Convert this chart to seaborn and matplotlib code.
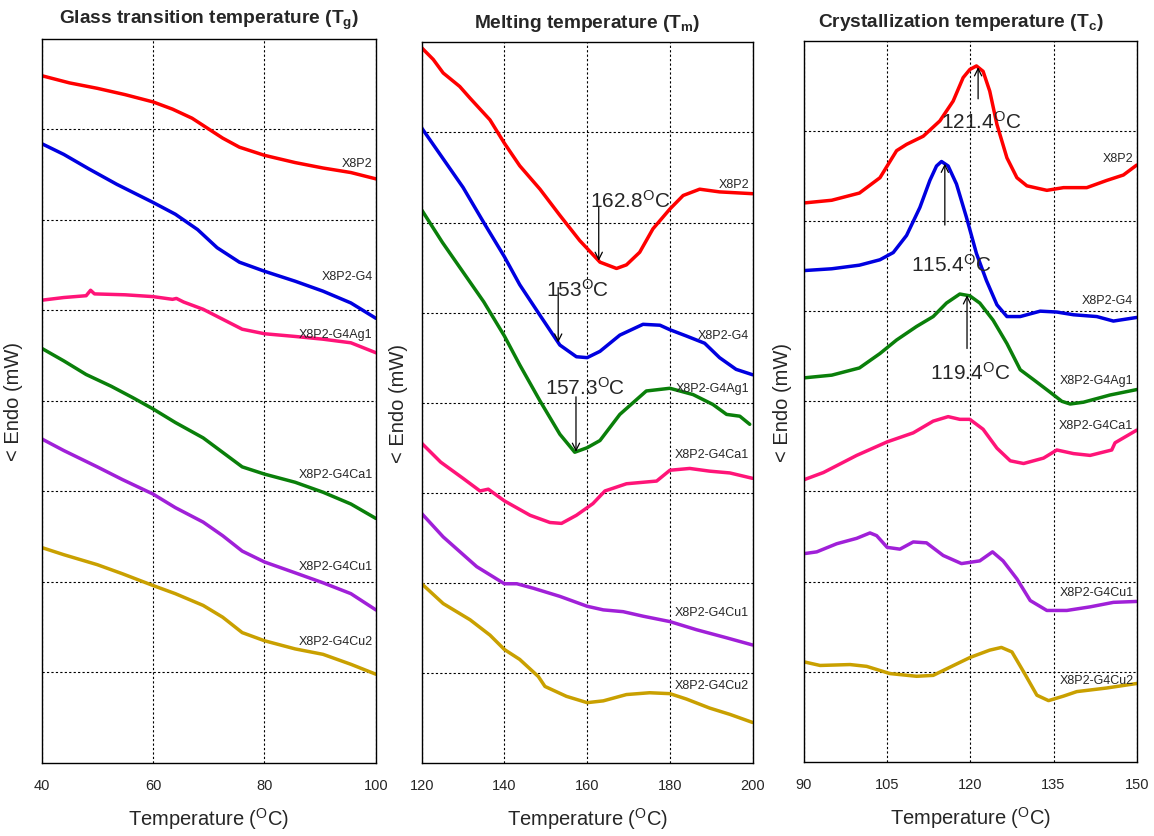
import numpy as np
import matplotlib
matplotlib.use("Agg")
import matplotlib.pyplot as plt
import seaborn as sns

sns.set_style("white")
plt.rcParams["font.family"] = ["Liberation Sans", "DejaVu Sans"]
plt.rcParams["mathtext.fontset"] = "custom"
plt.rcParams["mathtext.rm"] = "Liberation Sans"
plt.rcParams["mathtext.bf"] = "Liberation Sans:bold"
plt.rcParams["mathtext.default"] = "regular"

samples = ["X8P2", "X8P2-G4", "X8P2-G4Ag1", "X8P2-G4Ca1", "X8P2-G4Cu1", "X8P2-G4Cu2"]
red, blue, pink, green, purple, gold = "#FF0000", "#0000E0", "#FF1478", "#0A7F0A", "#A020D8", "#C9A000"
tg_colors = [red, blue, pink, green, purple, gold]
tm_colors = [red, blue, green, pink, purple, gold]
tc_colors = [red, blue, green, pink, purple, gold]

# ---- Glass transition region (heat flow, stacked, arbitrary offset units) ----
tg_x8p2_t = [40, 45, 50, 55, 60, 63.5, 67, 70, 72.5, 75.5, 80, 85.5, 90.5, 95.5, 100]
tg_x8p2_h = [7.59, 7.51, 7.45, 7.38, 7.30, 7.22, 7.12, 7.00, 6.90, 6.80, 6.71, 6.63, 6.57, 6.52, 6.45]
tg_g4_t = [40, 44, 48.5, 53.5, 60, 64, 68, 71.5, 75.5, 80, 85.5, 90.5, 95.5, 100]
tg_g4_h = [6.84, 6.72, 6.56, 6.39, 6.19, 6.06, 5.89, 5.69, 5.53, 5.43, 5.32, 5.21, 5.08, 4.91]
tg_ag1_t = [40, 44, 48, 48.8, 49.5, 55, 60, 63.5, 64.2, 65.5, 69, 72.5, 76, 80, 85.5, 90.5, 95.5, 100]
tg_ag1_h = [5.11, 5.14, 5.16, 5.22, 5.18, 5.17, 5.15, 5.12, 5.13, 5.09, 5.01, 4.90, 4.79, 4.74, 4.71, 4.68, 4.64, 4.53]
tg_ca1_t = [40, 44, 48, 52.5, 56.5, 60, 64, 69, 72.5, 76, 80, 85.5, 90.5, 95.5, 100]
tg_ca1_h = [4.58, 4.44, 4.29, 4.16, 4.03, 3.91, 3.76, 3.59, 3.43, 3.27, 3.19, 3.10, 2.99, 2.86, 2.70]
tg_cu1_t = [40, 44, 50, 54.5, 60, 64, 69, 72.5, 76, 80, 85.5, 90.5, 95.5, 100]
tg_cu1_h = [3.58, 3.45, 3.27, 3.13, 2.97, 2.82, 2.66, 2.51, 2.34, 2.22, 2.10, 1.99, 1.87, 1.69]
tg_cu2_t = [40, 44, 50, 54.5, 60, 64, 69, 72.5, 76, 80, 85.5, 90.5, 95.5, 100]
tg_cu2_h = [2.38, 2.30, 2.19, 2.09, 1.96, 1.87, 1.74, 1.61, 1.44, 1.35, 1.26, 1.20, 1.09, 0.98]

# ---- Melting region ----
tm_x8p2_t = [120, 122.8, 125.2, 129.2, 131.7, 136.5, 140, 143.7, 148.6, 153.4, 158.2, 163.1, 167.1,
             169.5, 172.7, 175.9, 180, 183.2, 187.2, 192, 200]
tm_x8p2_h = [7.94, 7.81, 7.66, 7.51, 7.38, 7.14, 6.88, 6.63, 6.37, 6.08, 5.80, 5.56, 5.49,
             5.53, 5.67, 5.93, 6.15, 6.30, 6.37, 6.34, 6.32]
tm_g4_t = [120, 125, 130, 135, 140, 143.7, 148.6, 153.4, 157.4, 160, 163.1, 167.9, 173.5, 177.6,
           180, 184, 188.4, 192, 196, 200]
tm_g4_h = [7.05, 6.72, 6.39, 6.00, 5.62, 5.31, 4.97, 4.64, 4.51, 4.50, 4.57, 4.75, 4.87, 4.86,
           4.81, 4.74, 4.66, 4.50, 4.37, 4.31]
tm_ag1_t = [120, 125, 130, 135, 140, 143.7, 148.6, 153.4, 157, 160, 163.1, 167.9, 174.3, 180,
            185.6, 190.4, 193.7, 196.9, 199.3]
tm_ag1_h = [6.14, 5.78, 5.45, 5.12, 4.74, 4.42, 4.02, 3.65, 3.45, 3.50, 3.58, 3.87, 4.13, 4.16,
            4.09, 3.98, 3.87, 3.85, 3.76]
tm_ca1_t = [120, 124.6, 130, 134.1, 136.1, 140, 146.2, 151, 153.8, 157.4, 161.4, 164.3, 169.5,
            176.8, 180, 184.8, 189.6, 194.5, 200]
tm_ca1_h = [3.55, 3.34, 3.16, 3.02, 3.04, 2.91, 2.75, 2.67, 2.66, 2.75, 2.88, 3.02, 3.10,
            3.13, 3.25, 3.27, 3.24, 3.22, 3.16]
tm_cu1_t = [120, 125.2, 133.3, 140, 143, 147, 153.4, 160, 163.9, 168.7, 173.5, 180, 186.4, 193.7, 200]
tm_cu1_h = [2.77, 2.51, 2.18, 1.99, 1.99, 1.94, 1.85, 1.74, 1.70, 1.68, 1.63, 1.57, 1.48, 1.39, 1.31]
tm_cu2_t = [120, 125.2, 131.7, 136.5, 140, 143.7, 148.2, 149.8, 155, 160, 163.9, 169.5, 175.1,
            180, 184, 189.6, 194.5, 200]
tm_cu2_h = [1.99, 1.77, 1.59, 1.42, 1.26, 1.15, 0.96, 0.85, 0.74, 0.67, 0.69, 0.76, 0.78,
            0.77, 0.71, 0.61, 0.54, 0.45]

# ---- Crystallization region ----
tc_x8p2_t = [90, 95, 100, 103.7, 106.7, 108.5, 111.5, 114.5, 116.9, 118.7, 119.9, 121.1, 122.3,
             123.5, 124.8, 126.6, 128.4, 130.2, 133.8, 136.8, 141, 144.6, 147.6, 150]
tc_x8p2_h = [6.20, 6.23, 6.31, 6.48, 6.78, 6.85, 6.94, 7.11, 7.33, 7.59, 7.68, 7.72, 7.66,
             7.44, 7.07, 6.70, 6.48, 6.39, 6.34, 6.37, 6.37, 6.45, 6.51, 6.62]
tc_g4_t = [90, 95, 100, 103.7, 106.1, 108.5, 110.9, 112.7, 113.9, 114.8, 116, 117.5, 119.3, 121.1,
           122.9, 124.8, 126.6, 129, 132.6, 135.6, 138.6, 142.8, 145.8, 150]
tc_g4_h = [5.45, 5.47, 5.51, 5.57, 5.65, 5.84, 6.15, 6.45, 6.61, 6.66, 6.61, 6.41, 6.04, 5.64,
           5.34, 5.07, 4.94, 4.94, 5.00, 4.99, 4.96, 4.94, 4.89, 4.93]
tc_ag1_t = [90, 95, 100, 103.7, 106.7, 110.3, 113.3, 115.7, 118.1, 119.9, 121.7, 124.1, 126.6,
            129, 131.4, 134.4, 136.5, 138, 140.4, 145.2, 150]
tc_ag1_h = [4.26, 4.29, 4.37, 4.53, 4.68, 4.83, 4.94, 5.09, 5.19, 5.17, 5.09, 4.90, 4.64,
            4.35, 4.24, 4.10, 4.00, 3.97, 3.99, 4.07, 4.13]
tc_ca1_t = [90, 93.5, 99.5, 105, 109.7, 113.3, 116, 118.1, 119.9, 122.3, 124.8, 127.2, 129.6,
            133.2, 135.6, 138.6, 141.6, 145.5, 146.1, 150]
tc_ca1_h = [3.13, 3.21, 3.40, 3.55, 3.65, 3.78, 3.83, 3.80, 3.80, 3.69, 3.48, 3.34, 3.31,
            3.37, 3.46, 3.42, 3.40, 3.46, 3.54, 3.68]
tc_cu1_t = [90, 92.3, 95.9, 99.5, 101.9, 103.1, 105, 107.3, 109.7, 112.1, 115.1, 118.4, 121.7,
            124, 125.9, 128.4, 130.8, 133.8, 137.4, 141.6, 145.8, 150]
tc_cu1_h = [2.31, 2.33, 2.42, 2.48, 2.54, 2.51, 2.38, 2.36, 2.44, 2.43, 2.29, 2.20, 2.23,
            2.33, 2.23, 2.03, 1.79, 1.68, 1.68, 1.72, 1.77, 1.78]
tc_cu2_t = [90, 92.9, 98.3, 101.3, 105.5, 110.3, 113.3, 116.3, 120, 123.5, 125.6, 127.5, 129.6,
            132, 134.1, 136.8, 139.2, 144.6, 150]
tc_cu2_h = [1.11, 1.07, 1.08, 1.06, 0.98, 0.95, 0.96, 1.05, 1.16, 1.24, 1.27, 1.22, 1.00,
            0.74, 0.68, 0.73, 0.78, 0.82, 0.87]

# Peak temperatures quoted on the melting and crystallization panels
tm_peak_temp = [162.8, 153.0, 157.3]
tm_peak_label = ["162.8$^{O}$C", "153$^{O}$C", "157.3$^{O}$C"]
tc_peak_temp = [121.4, 115.4, 119.4]
tc_peak_label = ["121.4$^{O}$C", "115.4$^{O}$C", "119.4$^{O}$C"]

tg_ticks = [40, 60, 80, 100]
tm_ticks = [120, 140, 160, 180, 200]
tc_ticks = [90, 105, 120, 135, 150]

panels = [
    dict(title="Glass transition temperature (T$_{g}$)", colors=tg_colors,
         curves=[(tg_x8p2_t, tg_x8p2_h), (tg_g4_t, tg_g4_h), (tg_ag1_t, tg_ag1_h),
                 (tg_ca1_t, tg_ca1_h), (tg_cu1_t, tg_cu1_h), (tg_cu2_t, tg_cu2_h)],
         ticks=tg_ticks, rect=[0.0360, 0.0872, 0.2898, 0.8656], ylab_x=-0.055, title_x=0.5,
         label_y=[6.63, 5.38, 4.74, 3.19, 2.18, 1.35]),
    dict(title="Melting temperature (T$_{m}$)", colors=tm_colors,
         curves=[(tm_x8p2_t, tm_x8p2_h), (tm_g4_t, tm_g4_h), (tm_ag1_t, tm_ag1_h),
                 (tm_ca1_t, tm_ca1_h), (tm_cu1_t, tm_cu1_h), (tm_cu2_t, tm_cu2_h)],
         ticks=tm_ticks, rect=[0.3654, 0.0872, 0.2868, 0.8610], ylab_x=-0.041, title_x=0.5,
         label_y=[6.43, 4.75, 4.16, 3.43, 1.68, 0.87]),
    dict(title="Crystallization temperature (T$_{c}$)", colors=tc_colors,
         curves=[(tc_x8p2_t, tc_x8p2_h), (tc_g4_t, tc_g4_h), (tc_ag1_t, tc_ag1_h),
                 (tc_ca1_t, tc_ca1_h), (tc_cu1_t, tc_cu1_h), (tc_cu2_t, tc_cu2_h)],
         ticks=tc_ticks, rect=[0.6967, 0.0885, 0.2883, 0.8617], ylab_x=-0.036, title_x=0.47,
         label_y=[6.70, 5.12, 4.24, 3.74, 1.88, 0.91]),
]

fig = plt.figure(figsize=(11.54, 8.37), dpi=100)
axes = []
for p in panels:
    ax = fig.add_axes(p["rect"])
    axes.append(ax)
    for (t, h), c in zip(p["curves"], p["colors"]):
        sns.lineplot(x=t, y=h, ax=ax, color=c, linewidth=2.5, estimator=None, sort=False,
                     solid_joinstyle="round", solid_capstyle="round")
    ax.set_xlim(p["ticks"][0], p["ticks"][-1])
    ax.set_ylim(0, 8)
    ax.set_xticks(p["ticks"])
    ax.set_xticklabels([str(v) for v in p["ticks"]])
    ax.set_yticks(range(1, 8))
    ax.set_yticklabels([])
    ax.tick_params(axis="both", length=0, labelsize=10.5, pad=11)
    ax.grid(True, color="black", linestyle=(0, (2, 2)), linewidth=0.8)
    for s in ax.spines.values():
        s.set_color("black")
        s.set_linewidth(1.0)
    ax.set_xlabel("Temperature ($^{O}$C)", fontsize=14.5)
    ax.xaxis.set_label_coords(0.5, -0.058)
    ax.set_ylabel("< Endo (mW)", fontsize=14.5)
    ax.yaxis.set_label_coords(p["ylab_x"], 0.5)
    ax.text(p["title_x"], 1.021, p["title"], transform=ax.transAxes, ha="center",
            va="baseline", fontsize=13.8, fontweight="bold")
    for name, ly in zip(samples, p["label_y"]):
        ax.text(0.99, ly, name, transform=ax.get_yaxis_transform(), ha="right",
                va="center", fontsize=9)

arrow_style = dict(arrowstyle="->", color="black", lw=0.9, mutation_scale=13,
                   shrinkA=0, shrinkB=0)

# Melting minima: arrows point down onto the endotherm
ax = axes[1]
tm_text_pos = [(170.3, 6.25), (157.8, 5.26), (159.4, 4.18)]
tm_arrow_len = [0.60, 0.61, 0.61]
for k, (temp, lab) in enumerate(zip(tm_peak_temp, tm_peak_label)):
    t, h = panels[1]["curves"][k]
    tip = float(np.interp(temp, t, h))
    ax.annotate("", xy=(temp, tip), xytext=(temp, tip + tm_arrow_len[k]), arrowprops=arrow_style)
    ax.text(*tm_text_pos[k], lab, ha="center", va="center", fontsize=15)

# Crystallization maxima: arrows point up onto the exotherm
ax = axes[2]
tc_text_pos = [(122.0, 7.11), (116.6, 5.53), (119.9, 4.33)]
tc_arrow_len = [0.35, 0.68, 0.59]
for k, (temp, lab) in enumerate(zip(tc_peak_temp, tc_peak_label)):
    t, h = panels[2]["curves"][k]
    tip = float(np.interp(temp, t, h))
    ax.annotate("", xy=(temp, tip), xytext=(temp, tip - tc_arrow_len[k]), arrowprops=arrow_style)
    ax.text(*tc_text_pos[k], lab, ha="center", va="center", fontsize=15)

fig.savefig("out.png", dpi=100, facecolor="white")
